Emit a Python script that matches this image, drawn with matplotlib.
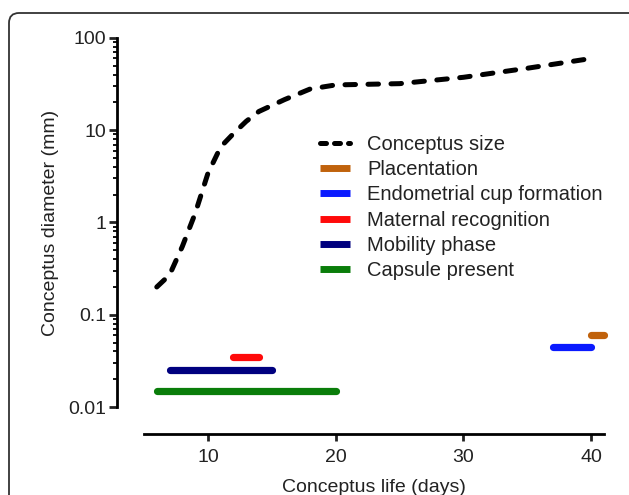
import matplotlib
matplotlib.use("Agg")
import matplotlib.pyplot as plt
from matplotlib.lines import Line2D
from matplotlib.patches import FancyBboxPatch
from matplotlib.ticker import LogLocator, NullFormatter, FixedLocator, FixedFormatter

plt.rcParams['font.family'] = ['Liberation Sans', 'DejaVu Sans']

# Conceptus size curve
days = [6, 7, 8, 9, 10, 11, 12, 13, 14, 16, 18, 20, 25, 30, 35, 40]
size_mm = [0.2, 0.27, 0.55, 1.25, 3.4, 6.6, 9.2, 12.5, 16, 21.5, 28, 31, 32, 37.5, 47, 60]

# Event phases: (label, start day, end day, y level, colour)
phase_labels = ["Placentation", "Endometrial cup formation", "Maternal recognition",
                "Mobility phase", "Capsule present"]
phase_start = [40, 37, 12, 7, 6]
phase_end = [41, 40, 14, 15, 20]
phase_level = [0.06, 0.045, 0.035, 0.025, 0.015]
phase_colors = ["#C0620C", "#0A1AFF", "#FF0A0A", "#00007F", "#0A7D0A"]

y_ticks = [0.01, 0.1, 1, 10, 100]
y_ticklabels = ["0.01", "0.1", "1", "10", "100"]
x_ticks = [10, 20, 30, 40]

W, H = 629, 495
fig = plt.figure(figsize=(W / 100, H / 100), dpi=100)

# rounded frame around figure
frame = FancyBboxPatch((0.09, -0.2), 6.6, 4.82 + 0.2,
                       boxstyle="round,pad=0,rounding_size=0.1",
                       transform=fig.dpi_scale_trans, fill=False,
                       edgecolor="#333333", linewidth=1.3, clip_on=False)
fig.patches.append(frame)

ax_l, ax_r, ax_t, ax_b = 144, 604, 38, 407
ax = fig.add_axes([ax_l / W, 1 - ax_b / H, (ax_r - ax_l) / W, (ax_b - ax_t) / H])
ax.set_yscale('log')
ax.set_ylim(0.01, 100)
ax.set_xlim(5, 41)

dash_lw = 3.6
dash_style = (0, (2.1, 2.5))
ax.plot(days, size_mm, color='black', lw=dash_lw, linestyle=dash_style,
        dash_capstyle='round')

for lab, s, e, lv, c in zip(phase_labels, phase_start, phase_end, phase_level, phase_colors):
    ax.plot([s, e], [lv, lv], color=c, lw=5.2, solid_capstyle='round', clip_on=False)

# spines
for sp in ['top', 'right']:
    ax.spines[sp].set_visible(False)
ax.spines['left'].set_position(('outward', 27 * 0.72))
ax.spines['bottom'].set_position(('outward', 27 * 0.72))
ax.spines['left'].set_linewidth(2.0)
ax.spines['bottom'].set_linewidth(2.0)

ax.yaxis.set_major_locator(FixedLocator(y_ticks))
ax.yaxis.set_major_formatter(FixedFormatter(y_ticklabels))
ax.yaxis.set_minor_locator(LogLocator(base=10, subs=range(2, 10)))
ax.yaxis.set_minor_formatter(NullFormatter())
ax.set_xticks(x_ticks)
ax.set_xticklabels([str(t) for t in x_ticks])

ax.tick_params(axis='y', which='major', length=5.5, width=2.0, pad=2, labelsize=14, colors='#222222')
ax.tick_params(axis='y', which='minor', length=3, width=1.3)
ax.tick_params(axis='x', which='major', length=5, width=2.0, pad=6, labelsize=14, colors='#222222')

ax.set_ylabel("Conceptus diameter (mm)", fontsize=14, color='#222222', labelpad=7)
ax.set_xlabel("Conceptus life (days)", fontsize=14, color='#222222', labelpad=9)

handles = [Line2D([], [], color='black', lw=dash_lw, linestyle=(0, (1.2, 1.6)),
                  dash_capstyle='round')]
for c in phase_colors:
    handles.append(Line2D([], [], color=c, lw=5, solid_capstyle='butt'))
labels = ["Conceptus size"] + phase_labels
leg = ax.legend(handles, labels, loc='upper left',
                bbox_to_anchor=((320 - ax_l) / (ax_r - ax_l), 1 - (135 - ax_t) / (ax_b - ax_t)),
                frameon=False, fontsize=14.5, handlelength=1.5, handletextpad=0.85,
                labelspacing=0.31, borderaxespad=0, borderpad=0)
for t in leg.get_texts():
    t.set_color('#222222')

fig.savefig("out.png", dpi=100)
